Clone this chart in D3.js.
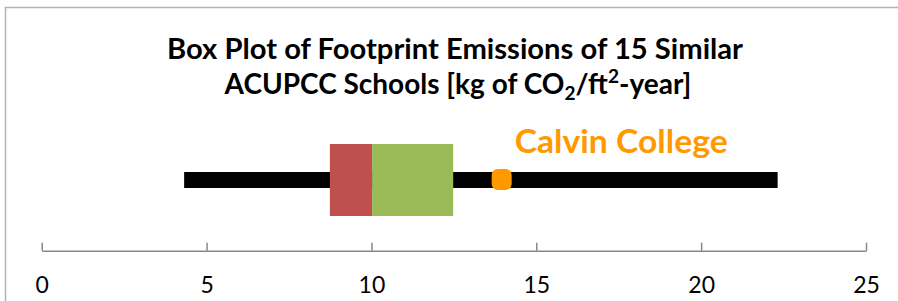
<!DOCTYPE html>
<html>
<head>
<meta charset="utf-8">
<script src="https://cdn.jsdelivr.net/npm/d3@7"></script>
<style>
html,body{margin:0;padding:0;background:#fff;}
svg{display:block;}
</style>
</head>
<body>
<script>
// Data
const boxStats = ["min", "q1", "median", "q3", "max"];
const boxValues = [4.32, 8.74, 10.02, 12.48, 22.32];
const highlightLabels = ["Calvin College"];
const highlightValues = [13.95];
const tickValues = [0, 5, 10, 15, 20, 25];
const titleLine1 = "Box Plot of Footprint Emissions of 15 Similar";
const titleLine2Parts = ["ACUPCC Schools [kg of CO", "2", "/ft", "2", "-year]"];

const W = 898, H = 301;
const svg = d3.select("body").append("svg").attr("width", W).attr("height", H);

// chart border
svg.append("path")
  .attr("d", `M5.5,${H} L5.5,7.5 L${W},7.5`)
  .attr("fill", "none").attr("stroke", "#b3b3b3").attr("stroke-width", 1.5);

const x = d3.scaleLinear().domain([0, 25]).range([41.7, 866]);
const v = {};
boxStats.forEach((k, i) => v[k] = boxValues[i]);

const cy = 180;
// whisker
svg.append("rect")
  .attr("x", x(v.min)).attr("width", x(v.max) - x(v.min))
  .attr("y", cy - 8).attr("height", 16).attr("fill", "#000");
// box lower half (q1-median)
svg.append("rect")
  .attr("x", x(v.q1)).attr("width", x(v.median) - x(v.q1))
  .attr("y", 144).attr("height", 72).attr("fill", "#C0504D");
// box upper half (median-q3)
svg.append("rect")
  .attr("x", x(v.median)).attr("width", x(v.q3) - x(v.median))
  .attr("y", 144).attr("height", 72).attr("fill", "#9BBB59");

// highlight point
highlightValues.forEach((val, i) => {
  svg.append("rect")
    .attr("x", x(val) - 10).attr("y", cy - 11)
    .attr("width", 20).attr("height", 21).attr("rx", 6).attr("ry", 6)
    .attr("fill", "#FF9900");
  svg.append("text")
    .attr("x", x(val) + 13).attr("y", 153)
    .attr("font-family", "Lato, 'Open Sans', sans-serif")
    .attr("font-weight", "bold").attr("font-size", 32)
    .attr("fill", "#FF9900")
    .attr("textLength", 213).attr("lengthAdjust", "spacingAndGlyphs")
    .text(highlightLabels[i]);
});

// axis
const axisY = 250.7;
const axis = d3.axisBottom(x).tickValues(tickValues).tickFormat(d3.format("d"))
  .tickSizeInner(-8).tickSizeOuter(0).tickPadding(26);
const g = svg.append("g").attr("transform", `translate(0,${axisY})`).call(axis);
g.select(".domain").attr("stroke", "#888").attr("stroke-width", 1.5);
g.selectAll(".tick line").attr("stroke", "#888").attr("stroke-width", 1.5);
g.selectAll(".tick text").attr("fill", "#000")
  .attr("font-family", "Lato, 'Open Sans', sans-serif").attr("font-size", 23);

// title
svg.append("text")
  .attr("x", 455).attr("y", 59).attr("text-anchor", "middle")
  .attr("font-family", "Lato, 'Open Sans', sans-serif")
  .attr("font-weight", "bold").attr("font-size", 28).attr("fill", "#000")
  .attr("textLength", 576).attr("lengthAdjust", "spacingAndGlyphs")
  .text(titleLine1);
const t2 = svg.append("text")
  .attr("x", 458).attr("y", 94).attr("text-anchor", "middle")
  .attr("font-family", "Lato, 'Open Sans', sans-serif")
  .attr("font-weight", "bold").attr("font-size", 28).attr("fill", "#000");
t2.append("tspan").text(titleLine2Parts[0]);
t2.append("tspan").attr("font-size", 19).attr("dy", 6).text(titleLine2Parts[1]);
t2.append("tspan").attr("dy", -6).text(titleLine2Parts[2]);
t2.append("tspan").attr("font-size", 19).attr("dy", -11).text(titleLine2Parts[3]);
t2.append("tspan").attr("dy", 11).text(titleLine2Parts[4]);
</script>
</body>
</html>
